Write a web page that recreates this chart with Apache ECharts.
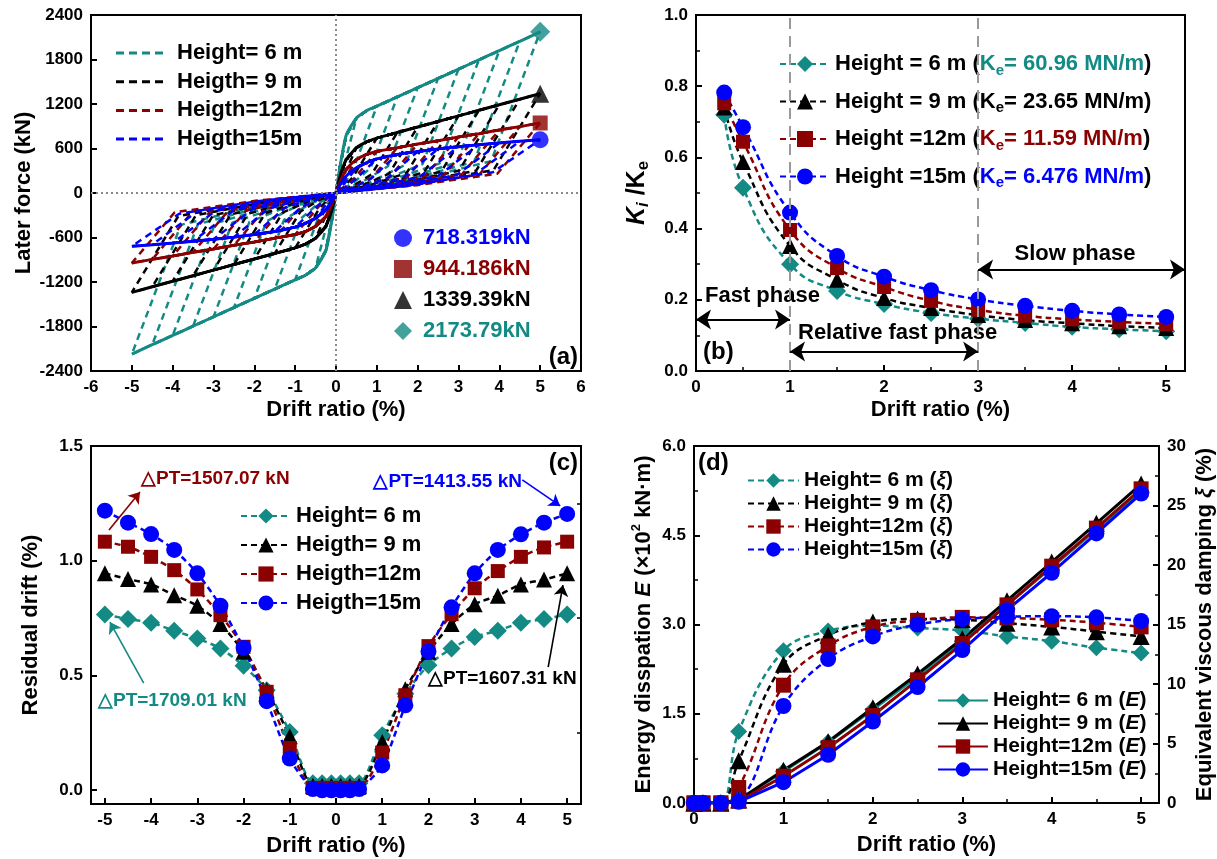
<!DOCTYPE html>
<html>
<head>
<meta charset="utf-8">
<script src="https://cdn.jsdelivr.net/npm/echarts@6.0.0/dist/echarts.min.js"></script>
<style>html,body{margin:0;padding:0;background:#fff}#chart{width:1217px;height:859px}</style>
</head>
<body>
<div id="chart"></div>
<script>
const FONT = "'Liberation Sans', Arial, Helvetica, sans-serif";
const COL = ['#138a84', '#000000', '#8b0000', '#0000ff'];   // 6 m, 9 m, 12 m, 15 m
const SYM = ['diamond', 'triangle', 'rect', 'circle'];

// ---------- (a) hysteresis loops ----------
const bbDrift   = [0, 0.1, 0.25, 0.5, 0.75, 1, 1.5, 2, 2.5, 3, 3.5, 4, 4.5, 5];
const bbForce6  = [0, 360, 780, 1010, 1110, 1170, 1295, 1420, 1545, 1670, 1795, 1920, 2045, 2173.79];
const bbForce9  = [0, 230, 450, 610, 690, 740, 815, 890, 965, 1040, 1115, 1190, 1265, 1339.39];
const bbForce12 = [0, 150, 320, 450, 520, 560, 610, 660, 705, 755, 800, 850, 895, 944.186];
const bbForce15 = [0, 110, 230, 340, 410, 460, 520, 560, 595, 625, 650, 675, 697, 718.319];
const loopAmp   = [0.5, 1, 1.5, 2, 2.5, 3, 3.5, 4, 4.5, 5];
const knee6X  = [0.12, 0.41, 0.85, 1.27, 1.70, 2.12, 2.54, 2.96, 3.38, 3.80];
const knee6F  = [200, 300, 340, 360, 380, 390, 400, 410, 420, 430];
const mid6X   = [0.06, 0.20, 0.42, 0.63, 0.85, 1.06, 1.27, 1.48, 1.69, 1.90];
const mid6F   = [80, 120, 135, 145, 150, 155, 160, 165, 170, 170];
const knee9X  = [0.12, 0.42, 0.87, 1.30, 1.73, 2.16, 2.58, 3.01, 3.43, 3.86];
const knee9F  = [150, 220, 250, 260, 270, 280, 290, 300, 300, 310];
const mid9X   = [0.06, 0.21, 0.43, 0.65, 0.86, 1.08, 1.29, 1.50, 1.71, 1.93];
const mid9F   = [60, 90, 100, 105, 110, 110, 115, 120, 120, 125];
const knee12X = [0.14, 0.42, 0.87, 1.31, 1.75, 2.19, 2.64, 3.08, 3.51, 3.95];
const knee12F = [120, 180, 200, 210, 220, 230, 240, 250, 250, 260];
const mid12X  = [0.07, 0.21, 0.43, 0.65, 0.87, 1.10, 1.32, 1.54, 1.75, 1.97];
const mid12F  = [50, 70, 80, 85, 90, 90, 95, 100, 100, 105];
const knee15X = [0.18, 0.45, 0.85, 1.25, 1.65, 2.05, 2.50, 2.95, 3.40, 3.84];
const knee15F = [110, 170, 190, 200, 210, 220, 230, 240, 250, 280];
const mid15X  = [0.09, 0.22, 0.42, 0.62, 0.82, 1.02, 1.25, 1.47, 1.70, 1.92];
const mid15F  = [45, 70, 75, 80, 85, 90, 90, 95, 100, 110];
const peakForce = [2173.79, 1339.39, 944.186, 718.319];
const heightTxtA = ['Height= 6 m', 'Heigth= 9 m', 'Heigth=12m', 'Heigth=15m'];

// ---------- (b) stiffness ratio ----------
const ratioDrift = [0.3, 0.5, 1, 1.5, 2, 2.5, 3, 3.5, 4, 4.5, 5];
const ratio6  = [0.720, 0.515, 0.300, 0.225, 0.188, 0.163, 0.147, 0.135, 0.124, 0.117, 0.112];
const ratio9  = [0.740, 0.587, 0.351, 0.256, 0.205, 0.177, 0.157, 0.143, 0.134, 0.126, 0.121];
const ratio12 = [0.752, 0.644, 0.396, 0.289, 0.236, 0.197, 0.172, 0.155, 0.145, 0.138, 0.132];
const ratio15 = [0.782, 0.685, 0.445, 0.323, 0.265, 0.227, 0.201, 0.183, 0.169, 0.159, 0.152];
const keVals = [60.96, 23.65, 11.59, 6.476];
const heightTxtB = ['Height = 6 m', 'Height = 9 m', 'Height =12m', 'Height =15m'];
const phaseBounds = [1, 3];

// ---------- (c) residual drift ----------
const resDrift = [-5, -4.5, -4, -3.5, -3, -2.5, -2, -1.5, -1, -0.5, -0.3, -0.1,
                  0.1, 0.3, 0.5, 1, 1.5, 2, 2.5, 3, 3.5, 4, 4.5, 5];
const res6  = [0.766, 0.746, 0.730, 0.695, 0.661, 0.618, 0.542, 0.436, 0.254, 0.030, 0.030, 0.030,
               0.030, 0.030, 0.030, 0.240, 0.420, 0.545, 0.618, 0.668, 0.695, 0.730, 0.746, 0.766];
const res9  = [0.945, 0.920, 0.897, 0.850, 0.804, 0.724, 0.603, 0.436, 0.235, 0.020, 0.020, 0.020,
               0.020, 0.020, 0.020, 0.210, 0.440, 0.603, 0.724, 0.810, 0.848, 0.897, 0.918, 0.945];
const res12 = [1.083, 1.061, 1.017, 0.959, 0.875, 0.763, 0.625, 0.429, 0.184, 0.010, 0.010, 0.010,
               0.010, 0.010, 0.010, 0.164, 0.414, 0.628, 0.767, 0.880, 0.955, 1.017, 1.058, 1.083];
const res15 = [1.218, 1.166, 1.116, 1.047, 0.945, 0.804, 0.620, 0.388, 0.138, 0.005, 0.000, 0.000,
               0.000, 0.000, 0.005, 0.108, 0.370, 0.605, 0.797, 0.945, 1.047, 1.115, 1.166, 1.204];
const ptVals = [1709.01, 1607.31, 1507.07, 1413.55];
const heightTxtC = ['Height= 6 m', 'Heigth= 9 m', 'Heigth=12m', 'Heigth=15m'];

// ---------- (d) energy dissipation and damping ----------
const dampDrift = [0, 0.1, 0.3, 0.5, 1, 1.5, 2, 2.5, 3, 3.5, 4, 4.5, 5];
const damp6  = [0, 0, 0, 6.00, 12.80, 14.45, 14.90, 14.70, 14.50, 14.00, 13.60, 13.05, 12.60];
const damp9  = [0, 0, 0, 3.55, 11.65, 14.10, 15.20, 15.46, 15.40, 15.10, 14.80, 14.40, 14.00];
const damp12 = [0, 0, 0, 1.30, 9.90, 13.20, 14.80, 15.35, 15.60, 15.55, 15.40, 15.15, 14.80];
const damp15 = [0, 0, 0, 0.25, 8.15, 12.10, 14.00, 15.00, 15.45, 15.65, 15.70, 15.60, 15.30];
const energy6  = [0, 0, 0, 0.05, 0.53, 1.02, 1.57, 2.13, 2.72, 3.33, 3.96, 4.60, 5.22];
const energy9  = [0, 0, 0, 0.05, 0.55, 1.03, 1.60, 2.17, 2.76, 3.40, 4.05, 4.70, 5.36];
const energy12 = [0, 0, 0, 0.03, 0.45, 0.93, 1.47, 2.07, 2.68, 3.33, 3.98, 4.62, 5.28];
const energy15 = [0, 0, 0, 0.02, 0.35, 0.81, 1.37, 1.95, 2.57, 3.24, 3.87, 4.53, 5.20];
const heightTxtD = ['Height= 6 m', 'Height= 9 m', 'Height=12m', 'Height=15m'];

// ---------- helpers ----------
const zip = (xs, ys) => xs.map((x, i) => [x, ys[i]]);
const bold = (size, color, extra) => Object.assign({ fontFamily: FONT, fontWeight: 'bold', fontSize: size, color: color || '#000' }, extra || {});

function axisBase(extra) {
  return Object.assign({
    type: 'value',
    axisLine: { show: true, onZero: false, lineStyle: { color: '#000', width: 2 } },
    axisTick: { show: true, inside: true, length: 6, lineStyle: { color: '#000', width: 2 } },
    axisLabel: bold(17, '#000', { margin: 8 }),
    splitLine: { show: false },
    nameLocation: 'middle',
    nameTextStyle: bold(22)
  }, extra);
}

function loopData(bbF, kx, kf, mx, mf, j) {
  const amp = loopAmp[j];
  const pos = [[0, 0]];
  bbDrift.forEach((x, i) => { if (x > 0 && x <= amp) pos.push([x, bbF[i]]); });
  pos.push([kx[j], kf[j]], [mx[j], mf[j]], [0, 0]);
  const neg = pos.slice(1).map(p => [-p[0], -p[1]]);
  return pos.concat(neg);
}
function backboneData(bbF) {
  const neg = bbDrift.map((x, i) => [-x, -bbF[i]]).reverse();
  const pos = bbDrift.map((x, i) => [x, bbF[i]]).slice(1);
  return neg.concat(pos);
}

const series = [];

// (a) dashed cyclic loops
const loopSets = [
  [bbForce6, knee6X, knee6F, mid6X, mid6F],
  [bbForce9, knee9X, knee9F, mid9X, mid9F],
  [bbForce12, knee12X, knee12F, mid12X, mid12F],
  [bbForce15, knee15X, knee15F, mid15X, mid15F]
];
loopSets.forEach((s, h) => {
  loopAmp.forEach((amp, j) => {
    const ser = {
      type: 'line', xAxisIndex: 0, yAxisIndex: 0, silent: true,
      data: loopData(s[0], s[1], s[2], s[3], s[4], j),
      symbol: 'none', lineStyle: { color: COL[h], width: 2.5, type: [7, 5] }
    };
    if (h === 0 && j === 0) {
      ser.markLine = {
        silent: true, symbol: 'none', label: { show: false },
        lineStyle: { color: '#8a8a8a', width: 2, type: [2, 3] },
        data: [{ xAxis: 0 }, { yAxis: 0 }]
      };
    }
    series.push(ser);
  });
});
// (a) solid envelope curves
[bbForce6, bbForce9, bbForce12, bbForce15].forEach((f, h) => {
  series.push({
    type: 'line', xAxisIndex: 0, yAxisIndex: 0, silent: true, smooth: 0.2,
    data: backboneData(f), symbol: 'none', lineStyle: { color: COL[h], width: 3 }
  });
});
// (a) peak markers
const peakSize = [20, 18, 15, 17];
const pkIndex = { pk6: 0, pk9: 1, pk12: 2, pk15: 3 };
['pk6', 'pk9', 'pk12', 'pk15'].forEach((n, h) => {
  series.push({
    type: 'scatter', name: n, xAxisIndex: 0, yAxisIndex: 0,
    data: [[loopAmp[loopAmp.length - 1], peakForce[h]]],
    symbol: SYM[h], symbolSize: peakSize[h], itemStyle: { color: COL[h] }
  });
});

// (b)
const sizeB = [18, 16, 14, 16];
[ratio6, ratio9, ratio12, ratio15].forEach((r, h) => {
  const ser = {
    type: 'line', name: 'b' + h, xAxisIndex: 1, yAxisIndex: 1, smooth: 0.5,
    data: zip(ratioDrift, r), symbol: SYM[h], symbolSize: sizeB[h],
    itemStyle: { color: COL[h] }, lineStyle: { color: COL[h], width: 2.5, type: [6, 4] }
  };
  if (h === 0) {
    ser.markLine = {
      silent: true, label: { show: false }, symbol: 'none',
      lineStyle: { color: '#9a9a9a', width: 2, type: [11, 7] },
      data: phaseBounds.map(v => ({ xAxis: v }))
    };
  }
  series.push(ser);
});
// (b) phase arrows
series.push({
  type: 'line', xAxisIndex: 1, yAxisIndex: 1, data: [], silent: true,
  markLine: {
    silent: true, label: { show: false }, symbol: ['arrow', 'arrow'], symbolSize: 15,
    lineStyle: { color: '#000', width: 2, type: 'solid' },
    data: [
      [{ coord: [0, 0.145] }, { coord: [phaseBounds[0], 0.145] }],
      [{ coord: [phaseBounds[0], 0.055] }, { coord: [phaseBounds[1], 0.055] }],
      [{ coord: [phaseBounds[1], 0.285] }, { coord: [5.2, 0.285] }]
    ]
  }
});

// (c)
const sizeC = [18, 16, 14, 16];
[res6, res9, res12, res15].forEach((r, h) => {
  series.push({
    type: 'line', name: 'c' + h, xAxisIndex: 2, yAxisIndex: 2, smooth: 0.25,
    data: zip(resDrift, r), symbol: SYM[h], symbolSize: sizeC[h],
    itemStyle: { color: COL[h] }, lineStyle: { color: COL[h], width: 2.5, type: [6, 4] }
  });
});
// (c) pointer arrows for the annotations
const arrowC = [
  { c: COL[0], from: [-4.16, 0.467], to: [-4.89, 0.733] },
  { c: COL[1], from: [4.59, 0.536], to: [4.91, 0.894] },
  { c: COL[2], from: [-4.91, 1.134], to: [-4.24, 1.300] },
  { c: COL[3], from: [4.03, 1.352], to: [4.85, 1.239] }
];
series.push({
  type: 'line', xAxisIndex: 2, yAxisIndex: 2, data: [], silent: true,
  markLine: {
    silent: true, label: { show: false }, symbol: ['none', 'arrow'], symbolSize: 11,
    data: arrowC.map(a => [
      { coord: a.from, lineStyle: { color: a.c, width: 1.6, type: 'solid' } },
      { coord: a.to, lineStyle: { color: a.c, width: 1.6, type: 'solid' } }
    ])
  }
});

// (d) damping (right axis), dashed
const sizeD = [17, 17, 15, 16];
[damp6, damp9, damp12, damp15].forEach((r, h) => {
  series.push({
    type: 'line', name: 'x' + h, xAxisIndex: 3, yAxisIndex: 5, smooth: 0.4,
    data: zip(dampDrift, r), symbol: SYM[h], symbolSize: sizeD[h],
    itemStyle: { color: COL[h] }, lineStyle: { color: COL[h], width: 2.5, type: [6, 4] }
  });
});
// (d) energy (left axis), solid
[energy6, energy9, energy12, energy15].forEach((r, h) => {
  series.push({
    type: 'line', name: 'e' + h, xAxisIndex: 3, yAxisIndex: 4,
    data: zip(dampDrift, r), symbol: SYM[h], symbolSize: sizeD[h],
    itemStyle: { color: COL[h] }, lineStyle: { color: COL[h], width: 3 }
  });
});

// ---------- rich text styles ----------
const ckeys = ['t', 'k', 'r', 'b'];
const richB = { n: bold(22, '#000', { lineHeight: 28 }) };
ckeys.forEach((k, i) => {
  richB[k] = bold(22, COL[i], { lineHeight: 28 });
  richB[k + 's'] = bold(15, COL[i], { lineHeight: 12, verticalAlign: 'bottom' });
});
const richD = {
  n: bold(21, '#000', { lineHeight: 24 }),
  i: bold(21, '#000', { lineHeight: 24, fontStyle: 'italic' })
};
const richPk = {};
ckeys.forEach((k, i) => { richPk[k] = bold(22, COL[i], { lineHeight: 26, padding: [0, 0, 0, 6] }); });

// ---------- legends ----------
const legends = [
  { // (a) peak values
    data: ['pk15', 'pk12', 'pk9', 'pk6'],
    formatter: n => { const i = pkIndex[n]; return '{' + ckeys[i] + '|' + peakForce[i] + 'kN}'; },
    orient: 'vertical', left: 394, top: 225, padding: 0, itemGap: 5,
    itemWidth: 18, itemHeight: 18, selectedMode: false,
    textStyle: Object.assign(bold(22, '#000', { lineHeight: 26 }), { rich: richPk })
  },
  { // (b)
    data: ['b0', 'b1', 'b2', 'b3'],
    formatter: n => {
      const i = +n.slice(1), k = ckeys[i];
      return '{n|' + heightTxtB[i] + ' (}{' + k + '|K}{' + k + 's|e}{' + k + '|= ' + keVals[i] + ' MN/m}{n|)}';
    },
    orient: 'vertical', left: 779, top: 53, padding: 0, itemGap: 12.5,
    itemWidth: 50, itemHeight: 20, selectedMode: false,
    textStyle: Object.assign(bold(22), { rich: richB })
  },
  { // (c)
    data: ['c0', 'c1', 'c2', 'c3'],
    formatter: n => heightTxtC[+n.slice(1)],
    orient: 'vertical', left: 240, top: 503, padding: 0, itemGap: 3,
    itemWidth: 50, itemHeight: 19, selectedMode: false,
    textStyle: bold(22, '#000', { lineHeight: 26 })
  },
  { // (d) damping
    data: ['x0', 'x1', 'x2', 'x3'],
    formatter: n => '{n|' + heightTxtD[+n.slice(1)] + ' (}{i|ξ}{n|)}',
    orient: 'vertical', left: 747, top: 470, padding: 0, itemGap: 2,
    itemWidth: 51, itemHeight: 18, selectedMode: false,
    textStyle: Object.assign(bold(21), { rich: richD })
  },
  { // (d) energy
    data: ['e0', 'e1', 'e2', 'e3'],
    formatter: n => '{n|' + heightTxtD[+n.slice(1)] + ' (}{i|E}{n|)}',
    orient: 'vertical', left: 937, top: 690, padding: 0, itemGap: 2,
    itemWidth: 50, itemHeight: 18, selectedMode: false,
    textStyle: Object.assign(bold(21), { rich: richD })
  }
];

// ---------- graphic texts ----------
const gtext = (x, y, text, size, color, align) => ({
  type: 'text', x, y, silent: true,
  style: { text, fill: color || '#000', font: 'bold ' + size + 'px ' + FONT,
           align: align || 'left', textAlign: align || 'left', verticalAlign: 'middle', textVerticalAlign: 'middle' }
});
const graphics = [];
heightTxtA.forEach((t, i) => {
  const y = 53 + i * 28.7;
  graphics.push({ type: 'line', silent: true, shape: { x1: 116, y1: y, x2: 166, y2: y },
                  style: { stroke: COL[i], lineWidth: 3, lineDash: [8, 5] } });
  graphics.push(gtext(177, y, t, 22, '#000'));
});
graphics.push(gtext(578, 357, '(a)', 24, '#000', 'right'));
graphics.push(gtext(703, 352, '(b)', 24, '#000'));
graphics.push(gtext(578, 463, '(c)', 24, '#000', 'right'));
graphics.push(gtext(698, 463, '(d)', 24, '#000'));
graphics.push(gtext(705, 296, 'Fast phase', 22));
graphics.push(gtext(798, 333, 'Relative fast phase', 22));
graphics.push(gtext(1075, 254, 'Slow phase', 22, '#000', 'center'));
const ptLabel = v => '△PT=' + v.toFixed(2) + ' kN';
graphics.push(gtext(98, 701, ptLabel(ptVals[0]), 19, COL[0]));
graphics.push(gtext(428, 679, ptLabel(ptVals[1]), 19, COL[1]));
graphics.push(gtext(141, 479, ptLabel(ptVals[2]), 19, COL[2]));
graphics.push(gtext(522, 482, ptLabel(ptVals[3]), 19, COL[3], 'right'));

const fix1 = v => v.toFixed(1);
const plain = v => String(v);

const option = {
  animation: false,
  backgroundColor: '#fff',
  grid: [
    { left: 91, top: 15, width: 490, height: 356, show: true, borderColor: '#000', borderWidth: 2 },
    { left: 696, top: 15, width: 489, height: 356, show: true, borderColor: '#000', borderWidth: 2 },
    { left: 91, top: 446, width: 490, height: 358, show: true, borderColor: '#000', borderWidth: 2 },
    { left: 694, top: 446, width: 468, height: 357, show: true, borderColor: '#000', borderWidth: 2 }
  ],
  xAxis: [
    axisBase({ gridIndex: 0, min: -6, max: 6, interval: 1, name: 'Drift ratio (%)', nameGap: 28,
               axisLabel: bold(17, '#000', { margin: 8, formatter: plain }) }),
    axisBase({ gridIndex: 1, min: 0, max: 5.2, interval: 1, name: 'Drift ratio (%)', nameGap: 28,
               minorTick: { show: true, splitNumber: 2, length: 4, lineStyle: { color: '#000', width: 1.5 } },
               axisLabel: bold(17, '#000', { margin: 8, showMaxLabel: false }) }),
    axisBase({ gridIndex: 2, min: -5.3, max: 5.3, name: 'Drift ratio (%)', nameGap: 31,
               axisTick: { show: true, inside: true, length: 6, lineStyle: { color: '#000', width: 2 },
                           customValues: [-5, -4, -3, -2, -1, 0, 1, 2, 3, 4, 5] },
               axisLabel: bold(17, '#000', { margin: 8, customValues: [-5, -4, -3, -2, -1, 0, 1, 2, 3, 4, 5] }) }),
    axisBase({ gridIndex: 3, min: 0, max: 5.2, interval: 1, name: 'Drift ratio (%)', nameGap: 31,
               minorTick: { show: true, splitNumber: 2, length: 4, lineStyle: { color: '#000', width: 1.5 } },
               axisLabel: bold(17, '#000', { margin: 8, showMaxLabel: false }) })
  ],
  yAxis: [
    axisBase({ gridIndex: 0, min: -2400, max: 2400, interval: 600, name: 'Later force (kN)', nameGap: 56,
               axisLabel: bold(17, '#000', { margin: 8, formatter: plain }) }),
    axisBase({ gridIndex: 1, min: 0, max: 1, interval: 0.2, nameGap: 44,
               name: '{ki|K}{kis|i}{kn| /K}{kns|e}',
               nameTextStyle: { rich: {
                 ki: bold(25, '#000', { fontStyle: 'italic', lineHeight: 30 }),
                 kis: bold(17, '#000', { fontStyle: 'italic', lineHeight: 14, verticalAlign: 'bottom' }),
                 kn: bold(25, '#000', { lineHeight: 30 }),
                 kns: bold(17, '#000', { lineHeight: 14, verticalAlign: 'bottom' }) } },
               minorTick: { show: true, splitNumber: 2, length: 4, lineStyle: { color: '#000', width: 1.5 } },
               axisLabel: bold(17, '#000', { margin: 8, formatter: fix1 }) }),
    axisBase({ gridIndex: 2, min: -0.06, max: 1.5, name: 'Residual drift (%)', nameGap: 49,
               axisTick: { show: true, inside: true, length: 6, lineStyle: { color: '#000', width: 2 },
                           customValues: [0, 0.5, 1, 1.5] },
               axisLabel: bold(17, '#000', { margin: 8, customValues: [0, 0.5, 1, 1.5], formatter: fix1 }) }),
    axisBase({ gridIndex: 2, min: -0.06, max: 1.5, axisLine: { show: false, onZero: false }, axisLabel: { show: false },
               axisTick: { show: true, inside: true, length: 4, lineStyle: { color: '#000', width: 1.5 },
                           customValues: [0.25, 0.75, 1.25] } }),
    axisBase({ gridIndex: 3, min: 0, max: 6, interval: 1.5, nameGap: 36,
               name: '{n|Energy disspation }{it|E}{n| (×10}{sup|2}{n| kN·m)}',
               nameTextStyle: { rich: {
                 n: bold(22, '#000', { lineHeight: 28 }),
                 it: bold(22, '#000', { lineHeight: 28, fontStyle: 'italic' }),
                 sup: bold(13, '#000', { lineHeight: 12, verticalAlign: 'top' }) } },
               minorTick: { show: true, splitNumber: 2, length: 4, lineStyle: { color: '#000', width: 1.5 } },
               axisLabel: bold(17, '#000', { margin: 8, formatter: fix1 }) }),
    axisBase({ gridIndex: 3, min: 0, max: 30, interval: 5, position: 'right', nameGap: 32,
               name: '{n|Equivalent viscous damping }{it|ξ}{n| (%)}',
               nameTextStyle: { rich: {
                 n: bold(22, '#000', { lineHeight: 28 }),
                 it: bold(22, '#000', { lineHeight: 28, fontStyle: 'italic' }) } },
               minorTick: { show: true, splitNumber: 2, length: 4, lineStyle: { color: '#000', width: 1.5 } } })
  ],
  legend: legends,
  graphic: graphics,
  series
};

const chart = echarts.init(document.getElementById('chart'), null, { renderer: 'canvas' });
chart.setOption(option);
</script>
</body>
</html>
